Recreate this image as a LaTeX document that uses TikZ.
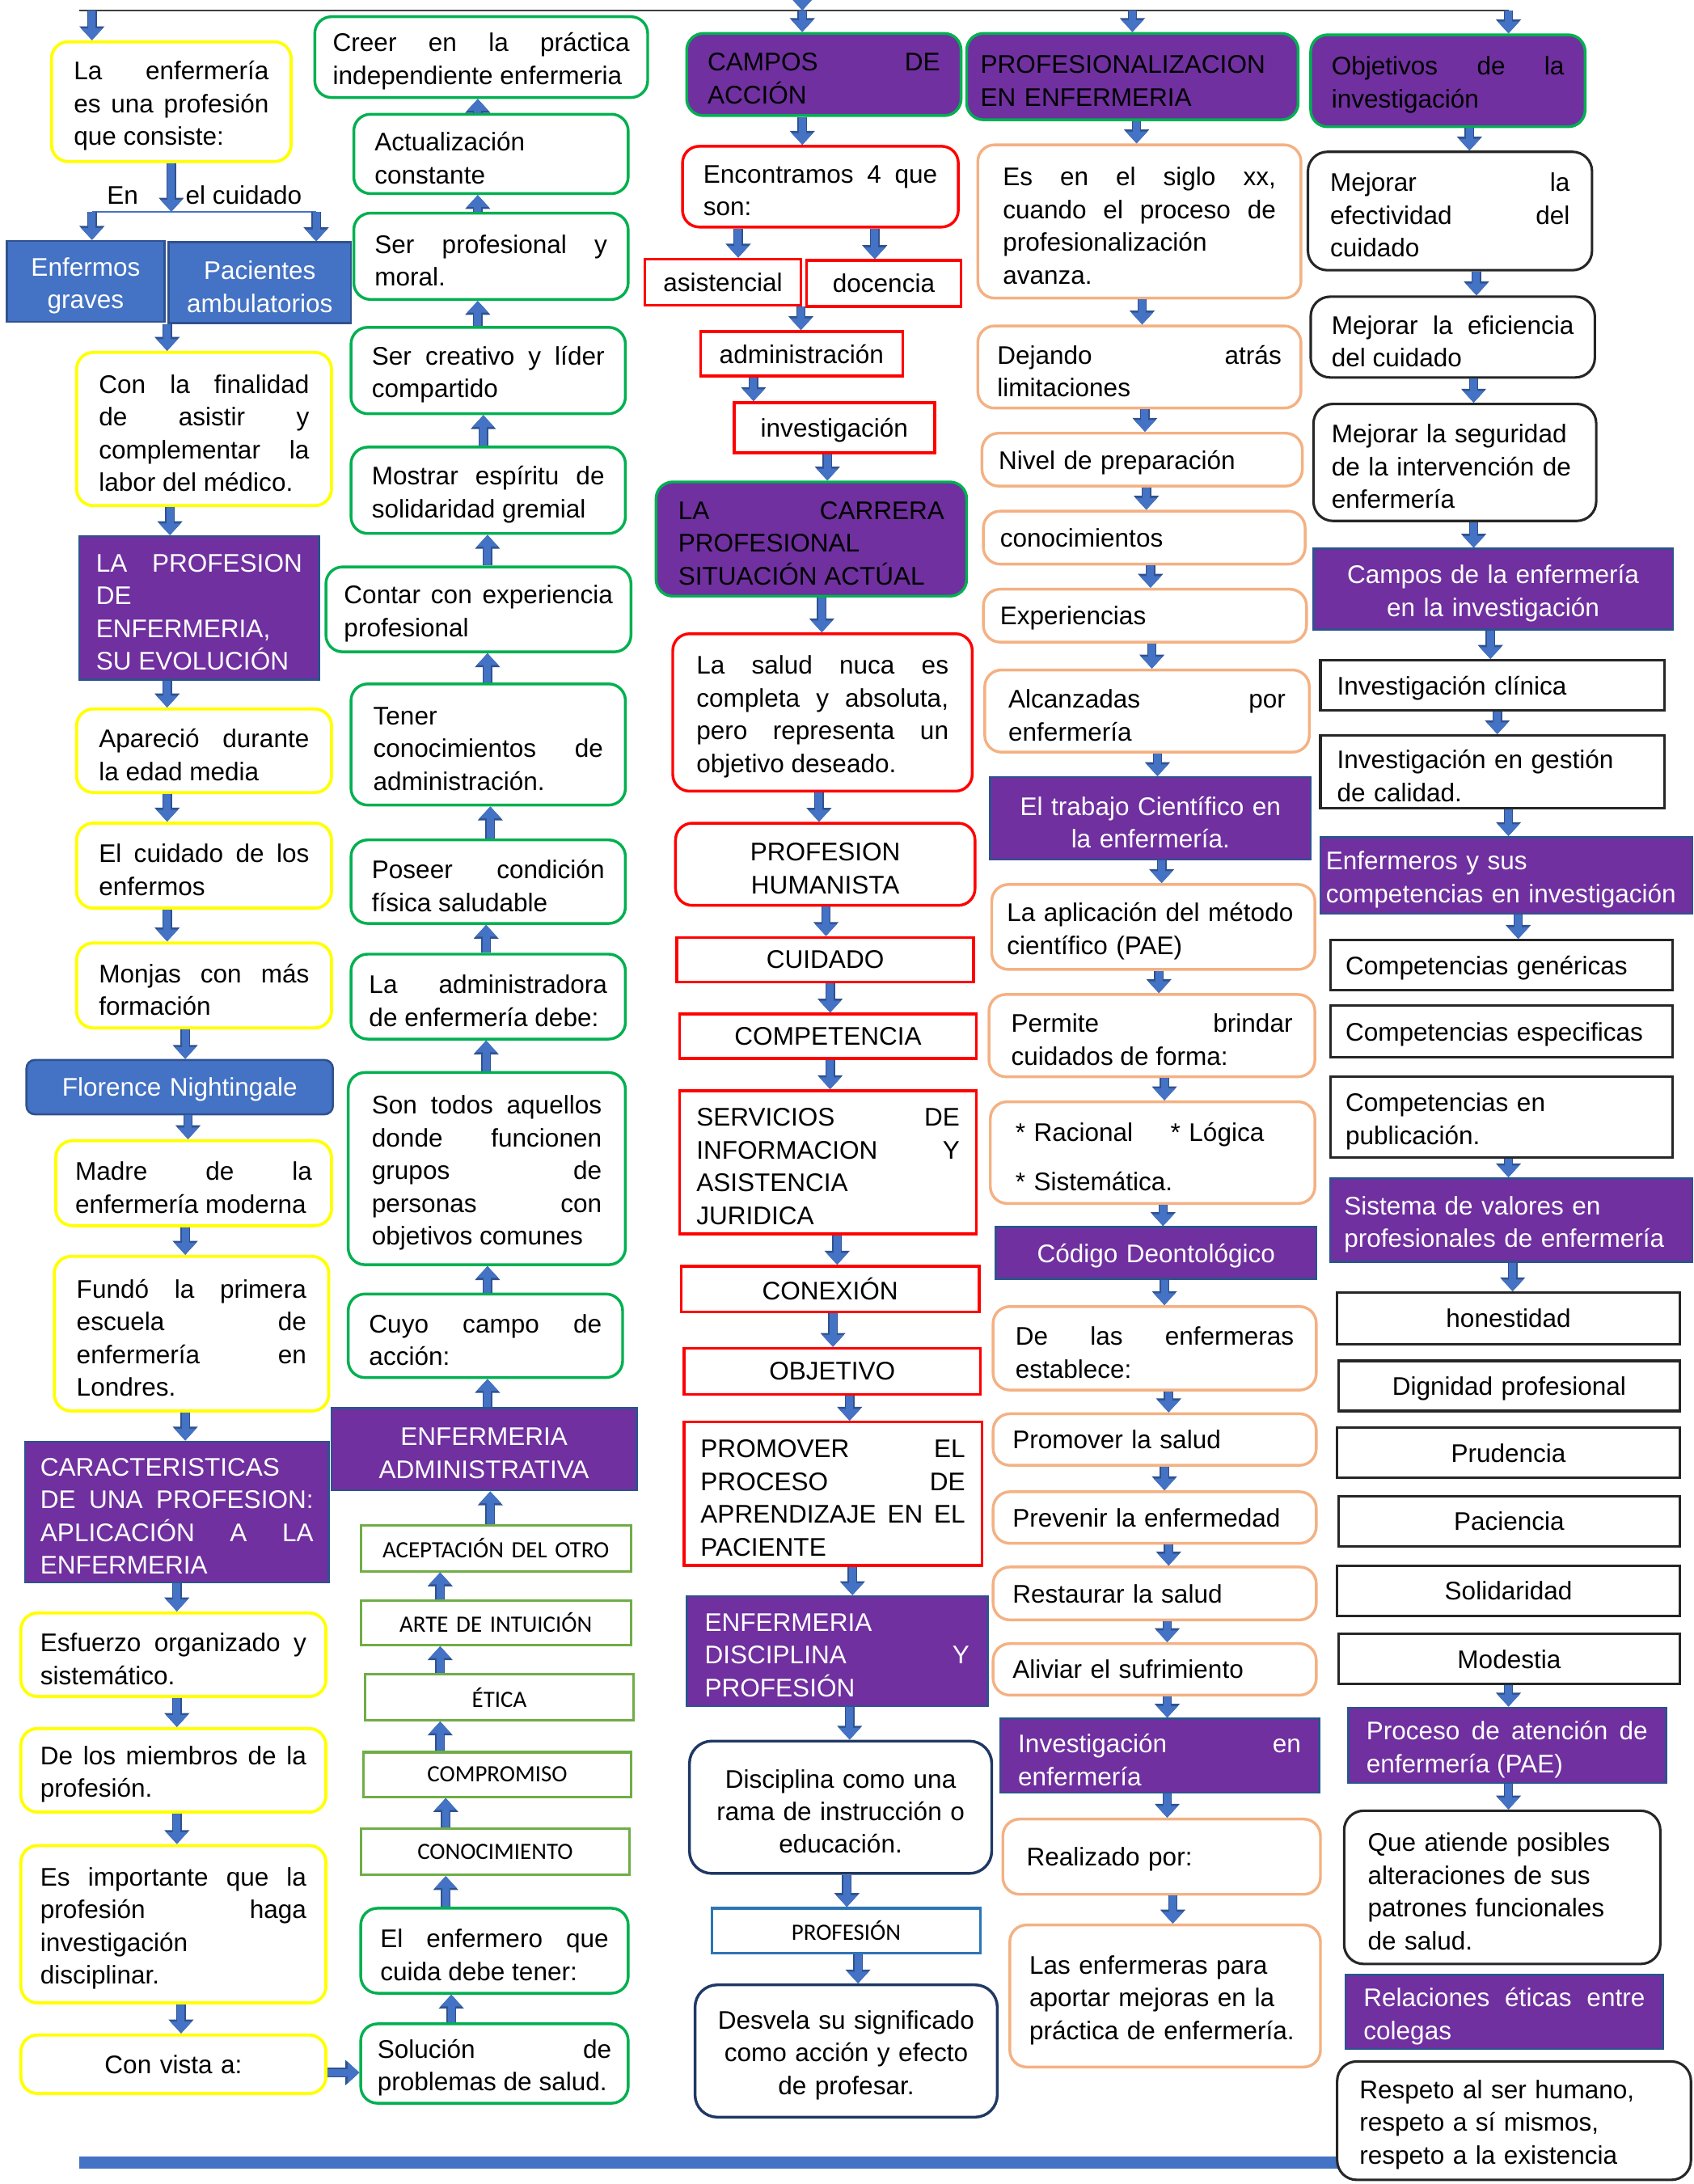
\documentclass[tikz,border=0pt]{standalone}
\usepackage{fontspec}
\setmainfont{Liberation Sans}
\newfontfamily\calib{Carlito}
\usetikzlibrary{arrows.meta}
\definecolor{purp}{HTML}{7030A0}
\definecolor{ablue}{HTML}{4472C4}
\definecolor{adark}{HTML}{2F528F}
\definecolor{yel}{HTML}{FFFF00}
\definecolor{grn}{HTML}{00B050}
\definecolor{lgreen}{HTML}{70AD47}
\definecolor{peach}{HTML}{F4B183}
\definecolor{navy}{HTML}{1F3864}
\definecolor{pblue}{HTML}{2E75B6}
\definecolor{redc}{HTML}{FF0000}
\hyphenpenalty=10000
\exhyphenpenalty=10000
\tolerance=10000
\hbadness=10000
\hfuzz=20pt
\newcommand\fs{\fontsize{18.3}{23.5}\selectfont}
\newcommand\fsc{\calib\fontsize{16.8}{19}\selectfont}
\newcommand\jb{\linebreak}
\newcommand\bx[8][14]{%
  \pgfmathsetmacro\bxcx{(#4+#6)/2}%
  \pgfmathsetmacro\bxcy{(#5+#7)/2}%
  \pgfmathsetmacro\bxw{#6-#4}%
  \pgfmathsetmacro\bxh{#7-#5}%
  \pgfmathsetmacro\bxt{#6-#4-2*#1}%
  \node[#3, inner xsep=#1pt, minimum width=\bxw pt, minimum height=\bxh pt, text width=\bxt pt,
        execute at end node={\par\vspace{-6pt}}] (#2) at (\bxcx,\bxcy) {#8};}
\newcommand\dn[3]{\draw[barr] (#1.south -| #3,0) -- (#2.north -| #3,0);}
\newcommand\up[3]{\draw[barr] (#1.north -| #3,0) -- (#2.south -| #3,0);}
\tikzset{
  every node/.style={font=\fs, inner ysep=2pt},
  barr/.style={draw=ablue, line width=5.2pt, -{Triangle[width=15pt,length=8.5pt]},
     preaction={draw=adark, line width=6.8pt, -{Triangle[width=17.5pt,length=10pt]}}},
  ybox/.style={draw=yel, line width=2.2pt, rounded corners=12pt, fill=white, align=justify},
  gbox/.style={draw=grn, line width=2pt, rounded corners=12pt, fill=white, align=justify},
  rround/.style={draw=redc, line width=2pt, rounded corners=12pt, fill=white, align=justify},
  rrect/.style={draw=redc, line width=2pt, fill=white, align=center},
  oround/.style={draw=peach, line width=2pt, rounded corners=12pt, fill=white, align=justify},
  kround/.style={draw=black!85, line width=1.8pt, rounded corners=14pt, fill=white, align=justify},
  krect/.style={draw=black!85, line width=1.8pt, fill=white, align=left},
  nround/.style={draw=navy, line width=2pt, rounded corners=16pt, fill=white, align=center},
  pbox/.style={draw=pblue, line width=1.8pt, fill=white, font=\fsc, align=center},
  lgbox/.style={draw=lgreen, line width=1.8pt, fill=white, font=\fsc, align=center},
  prect/.style={fill=purp, draw=adark, line width=1.5pt, text=white, align=justify},
  pround/.style={fill=purp, draw=grn, line width=2pt, rounded corners=12pt, text=black, align=justify},
  bluebox/.style={fill=ablue, draw=adark, line width=1.5pt, text=white, align=center},
  flo/.style={fill=ablue, draw=adark, line width=1.5pt, rounded corners=6pt, text=white, align=center},
}
\begin{document}
\begin{tikzpicture}[x=1pt,y=-1pt]
\useasboundingbox (0,0) rectangle (1216,1568);
\fill[white] (0,0) rectangle (1216,1568);
% bottom bar
\fill[ablue] (57,1548) rectangle (962,1557);
% top line
\coordinate (tl) at (57,7.5);
\coordinate (tr) at (1083,7.5);
\coordinate (topin) at (576,-14);
\draw[line width=1.2pt, black!75] (tl) -- (tr);

% ---------------- Column 1
\bx[16]{n1}{ybox}{37}{30}{209}{116}{La enfermería\jb es una profesión\jb que consiste:}
\node[inner sep=0pt] (en) at (88,140) {En};
\node[inner sep=0pt] (cuid) at (175,140) {el cuidado};
\coordinate (sm) at (123,152);
\coordinate (sl) at (66,152);
\coordinate (sr) at (227,152);
\bx[4]{eg}{bluebox}{5}{173}{118}{231}{Enfermos\\graves}
\bx[4]{pa}{bluebox}{121}{174}{252}{232}{Pacientes\\ambulatorios}
\bx[16]{n2}{ybox}{55}{253}{238}{363}{Con la finalidad\jb de asistir y\jb complementar la\jb labor del médico.}
\bx[12]{n3}{prect}{57}{385}{229}{488}{LA PROFESION\jb DE\\ENFERMERIA,\\SU EVOLUCIÓN}
\bx[16]{n4}{ybox}{55}{509}{238}{569}{Apareció durante\jb la edad media}
\bx[16]{n5}{ybox}{55}{591}{238}{652}{El cuidado de los\jb enfermos}
\bx[16]{n6}{ybox}{55}{677}{238}{738}{Monjas con más\jb formación}
\bx[4]{n7}{flo}{19}{761}{239}{800}{Florence Nightingale}
\bx[14]{n8}{ybox}{40}{819}{238}{880}{Madre de la\jb enfermería moderna}
\bx[16]{n9}{ybox}{39}{902}{236}{1013}{Fundó la primera\jb escuela de\jb enfermería en\jb Londres.}
\bx[11]{n10}{prect}{18}{1035}{236}{1136}{CARACTERISTICAS\\DE UNA PROFESION:\jb APLICACIÓN A LA\jb ENFERMERIA}
\bx[14]{n11}{ybox}{15}{1158}{234}{1218}{Esfuerzo organizado y\jb sistemático.}
\bx[14]{n12}{ybox}{15}{1241}{234}{1301}{De los miembros de la\jb profesión.}
\bx[14]{n13}{ybox}{15}{1325}{234}{1438}{Es importante que la\jb profesión haga\jb investigación\\disciplinar.}
\bx[14]{n14}{ybox, align=center}{15}{1461}{234}{1503}{Con vista a:}

\draw[barr] (tl -| 66,0) -- (n1.north -| 66,0);
\draw[barr] (n1.south -| sm) -- (sm);
\draw[line width=1.2pt, ablue] (sl) -- (sr);
\draw[barr] (sl) -- (eg.north -| sl);
\draw[barr] (sr) -- (pa.north -| sr);
\dn{pa}{n2}{120}
\dn{n2}{n3}{122}
\dn{n3}{n4}{120}
\dn{n4}{n5}{120}
\dn{n5}{n6}{120}
\dn{n6}{n7}{133}
\dn{n7}{n8}{135}
\dn{n8}{n9}{133}
\dn{n9}{n10}{133}
\dn{n10}{n11}{127}
\dn{n11}{n12}{127}
\dn{n12}{n13}{127}
\dn{n13}{n14}{130}

% ---------------- Column 2
\bx[13]{m1}{gbox}{226}{12}{465}{70}{Creer en la práctica\jb independiente enfermeria}
\bx[15]{m2}{gbox}{254}{82}{451}{139}{Actualización\\constante}
\bx[15]{m3}{gbox}{254}{153}{451}{215}{Ser profesional y\jb moral.}
\bx[15]{m4}{gbox}{252}{235}{449}{297}{Ser creativo y líder\jb compartido}
\bx[15]{m5}{gbox}{252}{321}{449}{383}{Mostrar espíritu de\jb solidaridad gremial}
\bx[13]{m6}{gbox}{234}{407}{453}{468}{Contar con experiencia\jb profesional}
\bx[16]{m7}{gbox}{252}{491}{449}{578}{Tener\\conocimientos de\jb administración.}
\bx[15]{m8}{gbox}{252}{603}{449}{663}{Poseer condición\jb física saludable}
\bx[13]{m9}{gbox}{252}{685}{449}{746}{La administradora\jb de enfermería debe:}
\bx[17]{m10}{gbox}{250}{770}{449}{908}{Son todos aquellos\jb donde funcionen\jb grupos de\jb personas con\jb objetivos comunes}
\bx[15]{m11}{gbox}{250}{929}{447}{989}{Cuyo campo de\jb acción:}
\bx[4]{m12}{prect, align=center}{238}{1011}{457}{1070}{ENFERMERIA\\ADMINISTRATIVA}
\bx[4]{m13}{lgbox}{259}{1095}{453}{1128}{ACEPTACIÓN DEL OTRO}
\bx[4]{m14}{lgbox}{259}{1149}{453}{1181}{ARTE DE INTUICIÓN}
\bx[4]{m15}{lgbox}{262}{1202}{455}{1235}{ÉTICA}
\bx[4]{m16}{lgbox}{261}{1258}{453}{1290}{COMPROMISO}
\bx[4]{m17}{lgbox}{259}{1313}{452}{1346}{CONOCIMIENTO}
\bx[14]{m18}{gbox}{259}{1370}{451}{1431}{El enfermero que\jb cuida debe tener:}
\bx[12]{m19}{gbox}{259}{1453}{451}{1510}{Solución de\jb problemas de salud.}

\up{m2}{m1}{343}
\up{m3}{m2}{343}
\up{m4}{m3}{343}
\up{m5}{m4}{347}
\up{m6}{m5}{350}
\up{m7}{m6}{350}
\up{m8}{m7}{352}
\up{m9}{m8}{349}
\up{m10}{m9}{349}
\up{m11}{m10}{350}
\up{m12}{m11}{350}
\up{m13}{m12}{352}
\up{m14}{m13}{316}
\up{m15}{m14}{316}
\up{m16}{m15}{316}
\up{m17}{m16}{320}
\up{m18}{m17}{320}
\up{m19}{m18}{324}
\draw[barr] (n14.east |- 0,1488) -- (m19.west |- 0,1488);

% ---------------- Column 3
\bx[15]{k1}{pround}{493}{24}{690}{83}{CAMPOS DE\jb ACCIÓN}
\bx[15]{k2}{rround}{490}{105}{688}{163}{Encontramos 4 que\jb son:}
\bx[4]{k3}{rrect}{463}{186}{575}{219}{asistencial}
\bx[4]{k4}{rrect}{579}{187}{690}{220}{docencia}
\bx[4]{k5}{rrect}{503}{238}{648}{270}{administración}
\bx[4]{k6}{rrect}{527}{289}{671}{325}{investigación}
\bx[16]{k7}{pround}{471}{346}{694}{428}{LA CARRERA\jb PROFESIONAL\\SITUACIÓN ACTÚAL}
\bx[17]{k8}{rround}{483}{455}{698}{568}{La salud nuca es\jb completa y absoluta,\jb pero representa un\jb objetivo deseado.}
\bx[4]{k9}{rround, align=center}{485}{591}{700}{650}{PROFESION\\HUMANISTA}
\bx[4]{k10}{rrect}{486}{673}{699}{705}{CUIDADO}
\bx[4]{k11}{rrect}{488}{728}{701}{760}{COMPETENCIA}
\bx[12]{k12}{rrect, align=justify}{488}{783}{701}{886}{SERVICIOS DE\jb INFORMACION Y\jb ASISTENCIA\\JURIDICA}
\bx[4]{k13}{rrect}{489}{909}{703}{942}{CONEXIÓN}
\bx[4]{k14}{rrect}{491}{968}{704}{1001}{OBJETIVO}
\bx[12]{k15}{rrect, align=justify}{491}{1021}{705}{1124}{PROMOVER EL\jb PROCESO DE\jb APRENDIZAJE EN EL\jb PACIENTE}
\bx[13]{k16}{prect}{493}{1146}{709}{1225}{ENFERMERIA\\DISCIPLINA Y\jb PROFESIÓN}
\bx[6]{k17}{nround}{495}{1250}{712}{1345}{Disciplina como una\\rama de instrucción o\\educación.}
\bx[4]{k18}{pbox}{511}{1370}{704}{1402}{PROFESIÓN}
\bx[6]{k19}{nround}{499}{1425}{716}{1520}{Desvela su significado\\como acción y efecto\\de profesar.}

\draw[barr] (topin) -- (topin |- tl);
\draw[barr] (topin |- tl) -- (k1.north -| topin);
\dn{k1}{k2}{576}
\dn{k2}{k3}{530}
\dn{k2}{k4}{628}
\dn{k3}{k5}{575}
\dn{k5}{k6}{541}
\dn{k6}{k7}{594}
\dn{k7}{k8}{590}
\dn{k8}{k9}{588}
\dn{k9}{k10}{593}
\dn{k10}{k11}{596}
\dn{k11}{k12}{596}
\dn{k12}{k13}{601}
\dn{k13}{k14}{598}
\dn{k14}{k15}{610}
\dn{k15}{k16}{612}
\dn{k16}{k17}{610}
\dn{k17}{k18}{608}
\dn{k18}{k19}{616}

% ---------------- Column 4
\bx[10]{q1}{pround, align=left}{694}{24}{932}{86}{PROFESIONALIZACION\\EN ENFERMERIA}
\bx[18]{q2}{oround}{702}{104}{934}{214}{Es en el siglo xx,\jb cuando el proceso de\jb profesionalización\\avanza.}
\bx[14]{q3}{oround}{702}{234}{934}{293}{Dejando atrás\jb limitaciones}
\bx[12]{q4}{oround, align=left}{705}{311}{935}{349}{Nivel de preparación}
\bx[12]{q5}{oround, align=left}{706}{367}{937}{405}{conocimientos}
\bx[12]{q6}{oround, align=left}{706}{423}{938}{461}{Experiencias}
\bx[17]{q7}{oround}{707}{481}{940}{540}{Alcanzadas por\jb enfermería}
\bx[4]{q8}{prect, align=center}{711}{558}{941}{617}{El trabajo Científico en\\la enfermería.}
\bx[11]{q9}{oround, align=left}{712}{635}{944}{696}{La aplicación del método\\científico (PAE)}
\bx[16]{q10}{oround}{710}{714}{944}{773}{Permite brindar\jb cuidados de forma:}
\bx[18]{q11}{oround, align=left}{711}{791}{944}{864}{* Racional\hspace{27pt}* Lógica\\[12pt]* Sistemática.}
\bx[4]{q12}{prect, align=center}{715}{881}{945}{918}{Código Deontológico}
\bx[16]{q13}{oround}{713}{938}{945}{998}{De las enfermeras\jb establece:}
\bx[14]{q14}{oround, align=left}{713}{1015}{945}{1052}{Promover la salud}
\bx[14]{q15}{oround, align=left}{713}{1071}{945}{1108}{Prevenir la enfermedad}
\bx[14]{q16}{oround, align=left}{713}{1125}{945}{1163}{Restaurar la salud}
\bx[14]{q17}{oround, align=left}{713}{1180}{945}{1217}{Aliviar el sufrimiento}
\bx[13]{q18}{prect}{718}{1234}{947}{1287}{Investigación en\jb enfermería}
\bx[17]{q19}{oround, align=left}{720}{1306}{948}{1360}{Realizado por:}
\bx[14]{q20}{oround, align=left}{725}{1382}{948}{1484}{Las enfermeras para\\aportar mejoras en la\\práctica de enfermería.}

\draw[barr] (tl -| 813,0) -- (q1.north -| 813,0);
\dn{q1}{q2}{816}
\dn{q2}{q3}{820}
\dn{q3}{q4}{822}
\dn{q4}{q5}{823}
\dn{q5}{q6}{826}
\dn{q6}{q7}{827}
\dn{q7}{q8}{831}
\dn{q8}{q9}{834}
\dn{q9}{q10}{832}
\dn{q10}{q11}{836}
\dn{q11}{q12}{835}
\dn{q12}{q13}{836}
\dn{q13}{q14}{839}
\dn{q14}{q15}{836}
\dn{q15}{q16}{839}
\dn{q16}{q17}{838}
\dn{q17}{q18}{838}
\dn{q18}{q19}{838}
\dn{q19}{q20}{842}

% ---------------- Column 5
\bx[15]{r1}{pround}{941}{25}{1138}{91}{Objetivos de la\jb investigación}
\bx[16]{r2}{kround}{939}{109}{1143}{194}{Mejorar la\jb efectividad del\jb cuidado}
\bx[15]{r3}{kround}{941}{213}{1145}{271}{Mejorar la eficiencia\jb del cuidado}
\bx[13]{r4}{kround, align=left}{943}{290}{1146}{374}{Mejorar la seguridad\\de la intervención de\\enfermería}
\bx[4]{r5}{prect, align=center}{943}{394}{1201}{452}{Campos de la enfermería\\en la investigación}
\bx[12]{r6}{krect}{948}{474}{1195}{510}{Investigación clínica}
\bx[12]{r7}{krect}{948}{528}{1195}{580}{Investigación en gestión\\de calidad.}
\bx[4]{r8}{prect, align=left}{948}{601}{1215}{656}{Enfermeros y sus\\competencias en investigación}
\bx[11]{r9}{krect}{955}{675}{1201}{711}{Competencias genéricas}
\bx[11]{r10}{krect}{955}{722}{1201}{759}{Competencias especificas}
\bx[11]{r11}{krect}{955}{773}{1201}{831}{Competencias en\\publicación.}
\bx[10]{r12}{prect, align=left}{955}{846}{1215}{906}{Sistema de valores en\\profesionales de enfermería}
\bx[4]{r13}{krect, align=center}{960}{928}{1206}{965}{honestidad}
\bx[4]{r14}{krect, align=center}{961}{977}{1206}{1013}{Dignidad profesional}
\bx[4]{r15}{krect, align=center}{960}{1025}{1206}{1061}{Prudencia}
\bx[4]{r16}{krect, align=center}{961}{1074}{1206}{1110}{Paciencia}
\bx[4]{r17}{krect, align=center}{960}{1124}{1206}{1160}{Solidaridad}
\bx[4]{r18}{krect, align=center}{961}{1173}{1206}{1209}{Modestia}
\bx[13]{r19}{prect}{968}{1226}{1196}{1280}{Proceso de atención de\jb enfermería (PAE)}
\bx[17]{r20}{kround, align=left}{965}{1300}{1192}{1410}{Que atiende posibles\\alteraciones de sus\\patrones funcionales\\de salud.}
\bx[13]{r21}{prect}{966}{1418}{1194}{1471}{Relaciones éticas entre\jb colegas}
\bx[16]{r22}{kround, align=left}{960}{1480}{1214}{1565}{Respeto al ser humano,\\respeto a sí mismos,\\respeto a la existencia}

\draw[barr] (tl -| 1083,0) -- (r1.north -| 1083,0);
\dn{r1}{r2}{1055}
\dn{r2}{r3}{1060}
\dn{r3}{r4}{1058}
\dn{r4}{r5}{1058}
\dn{r5}{r6}{1070}
\dn{r6}{r7}{1075}
\dn{r7}{r8}{1083}
\dn{r8}{r9}{1090}
\dn{r11}{r12}{1083}
\dn{r12}{r13}{1086}
\dn{r18}{r19}{1083}
\dn{r19}{r20}{1083}
\end{tikzpicture}
\end{document}
